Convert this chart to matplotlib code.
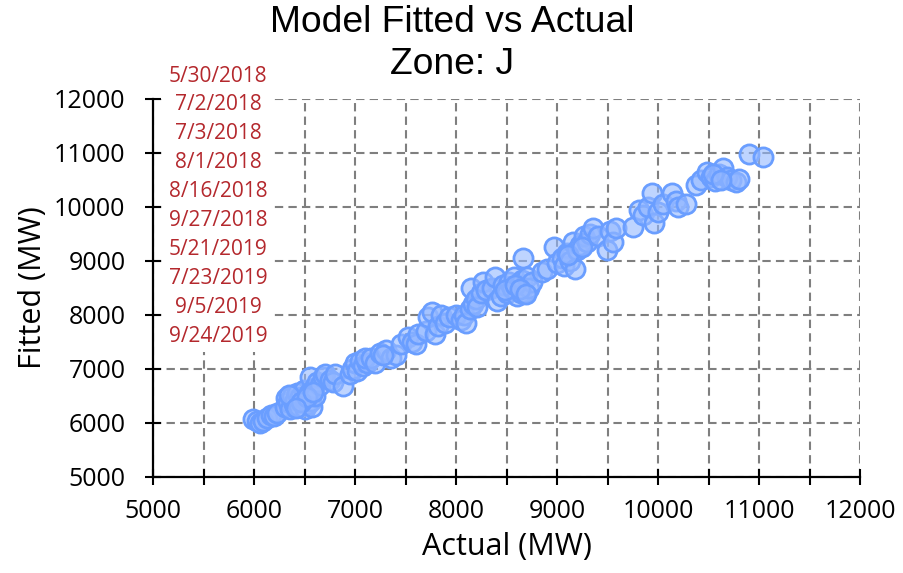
import matplotlib
matplotlib.use("Agg")
import matplotlib.pyplot as plt
from matplotlib.ticker import MultipleLocator
from matplotlib.patches import Rectangle

# ---- data ----
actual = [5990, 6030, 6060, 6090, 6130, 6170, 6200, 6230,
          6300, 6310, 6330, 6350, 6370, 6390, 6400, 6420, 6440, 6450, 6470, 6490,
          6500, 6510, 6530, 6540, 6550, 6560, 6570, 6590, 6600, 6620, 6650, 6680,
          6700, 6750, 6780, 6800, 6340, 6460, 6520, 6580, 6410,
          6880, 6950, 6970, 7000, 7020, 7050, 7080, 7120, 7100,
          7160, 7200, 7250, 7300, 7350, 7400, 7450, 7520, 7560, 7600, 7620, 7280,
          7700, 7720, 7760, 7790, 7820, 7850, 7890, 7930, 8000, 8050, 8080, 8100, 8140, 8170,
          8150, 8200, 8210, 8250, 8270, 8300, 8350, 8380, 8400, 8440, 8460, 8500,
          8520, 8550, 8570, 8600, 8620, 8640, 8650, 8660, 8680, 8700, 8720, 8750,
          8480, 8580, 8630, 8690,
          8850, 8900, 8970, 9000, 9050, 9070, 9100, 9130, 9160, 9180, 9200, 9230,
          9270, 9300, 9330, 9360, 9400, 9110, 9250,
          9490, 9520, 9550, 9580,
          9750, 9810, 9850, 9900, 9940, 9960, 10000, 10050, 10140, 10180, 10200, 10280,
          10380, 10430, 10480, 10520, 10560, 10600, 10640, 10680, 10720, 10770, 10800,
          10540, 10620,
          10900, 11040]
fitted = [6060, 6040, 6000, 6030, 6080, 6150, 6120, 6180,
          6300, 6450, 6380, 6250, 6500, 6350, 6420, 6550, 6300, 6480, 6400, 6600,
          6250, 6450, 6350, 6550, 6850, 6400, 6300, 6650, 6500, 6750, 6700, 6850,
          6900, 6800, 6750, 6900, 6520, 6380, 6480, 6560, 6280,
          6680, 6900, 7000, 7100, 6950, 7150, 7050, 7100, 7200,
          7200, 7100, 7300, 7350, 7200, 7250, 7450, 7580, 7500, 7450, 7650, 7250,
          7700, 7950, 8050, 7650, 7800, 8000, 7850, 7950, 8000, 7900, 8000, 7850, 8100, 8200,
          8500, 8300, 8140, 8400, 8600, 8450, 8500, 8700, 8250, 8350, 8550, 8400,
          8600, 8500, 8700, 8350, 8550, 8400, 8650, 9050, 8400, 8700, 8500, 8600,
          8450, 8550, 8480, 8380,
          8800, 8850, 9250, 8950, 9050, 8900, 9150, 9000, 9350, 8850, 9200, 9300,
          9450, 9350, 9500, 9600, 9450, 9100, 9250,
          9200, 9550, 9350, 9600,
          9620, 9940, 9850, 10000, 10250, 9700, 9900, 10050, 10250, 10100, 9990, 10050,
          10400, 10500, 10640, 10550, 10480, 10600, 10710, 10550, 10500, 10450, 10520,
          10600, 10500,
          10980, 10920]

date_labels = ["5/30/2018", "7/2/2018", "7/3/2018", "8/1/2018", "8/16/2018",
               "9/27/2018", "5/21/2019", "7/23/2019", "9/5/2019", "9/24/2019"]

title_line1 = "Model Fitted vs Actual"
title_line2 = "Zone: J"
x_label = "Actual (MW)"
y_label = "Fitted (MW)"

# ---- figure ----
W, H = 904, 573
fig = plt.figure(figsize=(W / 100, H / 100), dpi=100)
ax = fig.add_axes([153.3 / W, 1 - 476.7 / H, (860 - 153.3) / W, (476.7 - 98.7) / H])

ax.scatter(actual, fitted, s=190, facecolor=(0.58, 0.72, 1.0, 0.6),
           edgecolor="#6a9eff", linewidth=2.0, zorder=3)

ax.set_xlim(5000, 12000)
ax.set_ylim(5000, 12000)
ax.xaxis.set_major_locator(MultipleLocator(1000))
ax.xaxis.set_minor_locator(MultipleLocator(500))
ax.yaxis.set_major_locator(MultipleLocator(1000))

for s in ["top", "right"]:
    ax.spines[s].set_visible(False)
for s in ["left", "bottom"]:
    ax.spines[s].set_linewidth(1.6)
    ax.spines[s].set_color("black")

tickfont = ["Open Sans", "DejaVu Sans"]
ax.tick_params(axis="both", which="both", direction="inout", length=12, width=1.5,
               color="black")
ax.tick_params(axis="x", which="major", pad=10, labelsize=18)
ax.tick_params(axis="y", which="major", pad=14, labelsize=18)
for lab in ax.get_xticklabels() + ax.get_yticklabels():
    lab.set_family(tickfont)

ax.grid(True, axis="x", which="both", color="#7f7f7f", linestyle=(0, (4, 2.5)),
        linewidth=1.5, zorder=1)
ax.grid(True, axis="y", which="major", color="#7f7f7f", linestyle=(0, (4, 2.5)),
        linewidth=1.5, zorder=1)
ax.set_axisbelow(True)

ax.set_xlabel(x_label, fontsize=22, family=tickfont, labelpad=6)
fig.text(33 / W, 1 - 288 / H, y_label, rotation=90, ha="center", va="center",
         fontsize=22, family=tickfont)

fig.text(0.5, 1 - 22 / H, title_line1, ha="center", va="center", fontsize=26.8,
         family=["Liberation Sans", "DejaVu Sans"])
fig.text(0.5, 1 - 64 / H, title_line2, ha="center", va="center", fontsize=26.8,
         family=["Liberation Sans", "DejaVu Sans"])

# white box behind date labels
fig.patches.append(Rectangle((163 / W, 1 - 352 / H), (273 - 163) / W, (352 - 60) / H,
                             transform=fig.transFigure, facecolor="white",
                             edgecolor="none", zorder=5))
y0, step = 76, 28.9
for i, d in enumerate(date_labels):
    fig.text(218 / W, 1 - (y0 + i * step) / H, d, ha="center", va="center",
             fontsize=15, color="#b4282d", family=tickfont, zorder=6)

fig.savefig("out.png", dpi=100)
